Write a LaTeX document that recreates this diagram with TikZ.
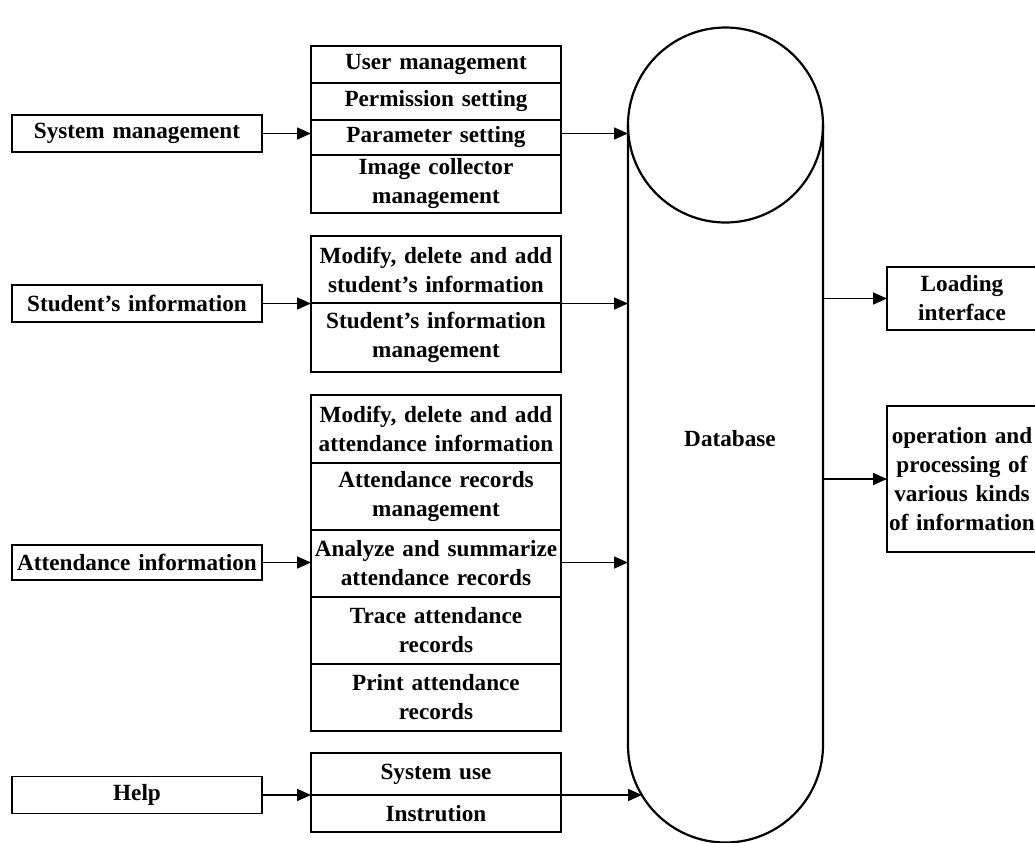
\documentclass[tikz,border=0pt]{standalone}
\usepackage{fontspec}
\setmainfont{Liberation Serif}
\usetikzlibrary{positioning,arrows.meta}
\tikzset{
  lab/.style={text=black, font=\fontsize{11.6}{14.5}\selectfont\bfseries},
  box/.style={lab, draw=black, line width=0.8pt, inner sep=0pt, outer sep=0pt,
    minimum width=125pt, text width=125pt, align=center},
  cell/.style={box, minimum height={#1*0.5pt}},
  side/.style={box, minimum width=75pt, text width=75pt, minimum height={#1*0.5pt}},
  arr/.style={draw=black, line width=0.8pt, -{Triangle[length=7pt,width=6pt]}},
  tank/.style={draw=black, line width=1.1pt},
}
\begin{document}
\begin{tikzpicture}[x=0.5pt, y=-0.5pt]
  \useasboundingbox (0,0) rectangle (1035,842);

  % database tank
  \coordinate (tankL) at (628,125);
  \coordinate (tankR) at (823,125);
  \coordinate (tankH) at (642,795);
  \draw[tank] (725.5,125) circle (97.5);
  \draw[tank] (tankL) -- (628,745) arc[start angle=180, end angle=0, radius=97.5] -- (tankR);
  \node[lab] (db) at (730,439) {Database};

  % left column
  \node[cell=37] (sys) at (137,133.5) {System management};
  \node[cell=37] (stu) at (137,303.5) {Student's information};
  \node[cell=35] (att) at (137,562.5) {Attendance information};
  \node[cell=37] (help) at (137,795) {Help};

  % system management stack
  \node[cell=37] (um) at (436,64.5) {User management};
  \node[cell=37, below=0pt of um] (ps) {Permission setting};
  \node[cell=35, below=0pt of ps] (par) {Parameter setting};
  \node[cell=58, below=0pt of par] (img) {Image collector\\management};

  % student stack
  \node[cell=67] (sm1) at (436,269.5) {Modify, delete and add\\student's information};
  \node[cell=69, below=0pt of sm1] (sm2) {Student's information\\management};

  % attendance stack
  \node[cell=68] (am1) at (436,429) {Modify, delete and add\\attendance information};
  \node[cell=67, below=0pt of am1] (am2) {Attendance records\\management};
  \node[cell=67, below=0pt of am2] (am3) {Analyze and summarize\\attendance records};
  \node[cell=67, below=0pt of am3] (am4) {Trace attendance\\records};
  \node[cell=67, below=0pt of am4] (am5) {Print attendance\\records};

  % help stack
  \node[cell=42] (hs1) at (436,774) {System use};
  \node[cell=37, below=0pt of hs1] (hs2) {Instrution};

  % right column
  \node[side=63] (load) at (962,298.5) {Loading\\interface};
  \node[side=146] (oper) at (962,479) {operation and\\processing of\\various kinds\\of information};

  % into the stacks
  \draw[arr] (sys.east) -- (sys.east -| par.west);
  \draw[arr] (stu.east) -- (stu.east -| sm1.west);
  \draw[arr] (att.east) -- (att.east -| am3.west);
  \draw[arr] (help.east) -- (help.east -| hs1.west);

  % into the tank
  \draw[arr] (sys.east -| par.east) -- (sys.east -| tankL);
  \draw[arr] (stu.east -| sm1.east) -- (stu.east -| tankL);
  \draw[arr] (att.east -| am3.east) -- (att.east -| tankL);
  \draw[arr] (help.east -| hs1.east) -- (tankH);

  % out of the tank
  \draw[arr] (load.west -| tankR) -- (load.west);
  \draw[arr] (oper.west -| tankR) -- (oper.west);
\end{tikzpicture}
\end{document}
